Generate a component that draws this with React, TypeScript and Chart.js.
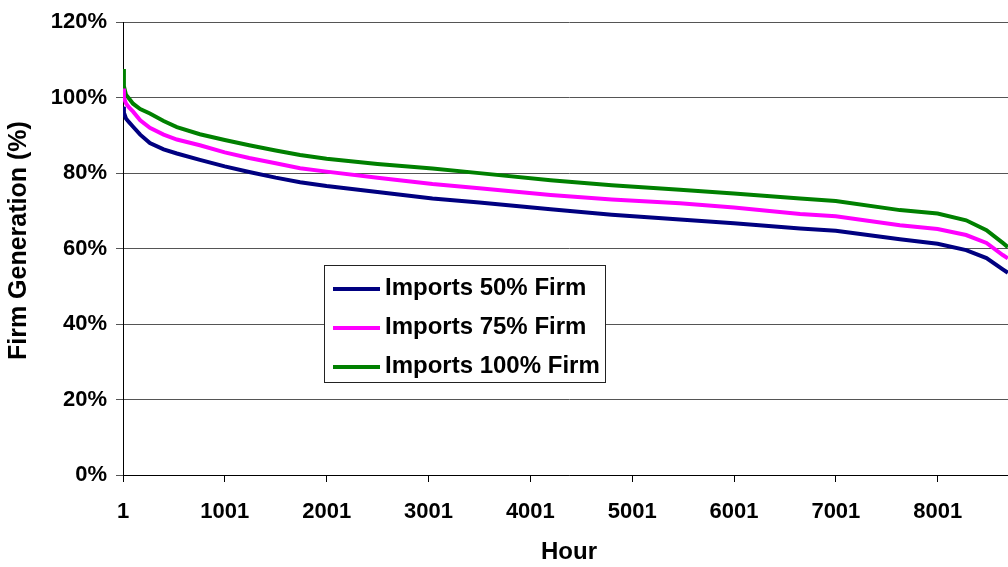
import React, { useEffect, useRef } from "react";
import { Chart, registerables } from "chart.js";

Chart.register(...registerables);

const hours = [1, 10, 30, 60, 100, 170, 265, 400, 530, 756, 1000, 1240, 1500, 1740, 2000, 2500, 3040, 3500, 4200, 4800, 5470, 6000, 6650, 7000, 7630, 8000, 8280, 8480, 8640, 8690];
const imports50 = [97.6, 96, 94.5, 93.5, 92.3, 90.2, 88, 86.3, 85.2, 83.5, 81.8, 80.3, 78.8, 77.6, 76.6, 75, 73.3, 72.2, 70.4, 69, 67.7, 66.7, 65.3, 64.7, 62.5, 61.3, 59.6, 57.5, 54.5, 53.6];
const imports75 = [102.4, 100, 98.5, 97.4, 96.3, 94, 92, 90.2, 88.9, 87.4, 85.5, 84, 82.6, 81.3, 80.4, 78.8, 77.1, 76, 74.2, 73, 72, 70.9, 69.2, 68.6, 66.2, 65.2, 63.6, 61.5, 58.3, 57.4];
const imports100 = [107.6, 103, 100.8, 99.8, 98.4, 97, 95.8, 93.8, 92.2, 90.3, 88.8, 87.4, 86, 84.8, 83.8, 82.4, 81.2, 80, 78.1, 76.8, 75.6, 74.6, 73.3, 72.6, 70.2, 69.3, 67.5, 64.9, 61.5, 60.4];
const xTickValues = [1, 1001, 2001, 3001, 4001, 5001, 6001, 7001, 8001];
const seriesNames = ["Imports 50% Firm", "Imports 75% Firm", "Imports 100% Firm"];
const seriesColors = ["#000080", "#FF00FF", "#008000"];
const yTitle = "Firm Generation (%)";
const xTitle = "Hour";

const FONT = "'Liberation Sans', Arial, sans-serif";

const yTitlePlugin = {
  id: "yTitleDraw",
  afterDraw(chart: any) {
    const ctx = chart.ctx;
    const area = chart.chartArea;
    ctx.save();
    ctx.translate(19, (area.top + area.bottom) / 2 - 8);
    ctx.rotate(-Math.PI / 2);
    ctx.font = `bold 25px ${FONT}`;
    ctx.fillStyle = "#000";
    ctx.textAlign = "center";
    ctx.textBaseline = "middle";
    ctx.fillText(yTitle, 0, 0);
    ctx.restore();
  },
};

export default function App() {
  const ref = useRef<HTMLCanvasElement | null>(null);

  useEffect(() => {
    const canvas = ref.current;
    if (!canvas) return;
    const seriesData = [imports50, imports75, imports100];
    const chart = new Chart(canvas, {
      type: "line",
      data: {
        datasets: seriesData.map((vals, i) => ({
          label: seriesNames[i],
          data: hours.map((h, j) => ({ x: h, y: vals[j] })),
          borderColor: seriesColors[i],
          backgroundColor: seriesColors[i],
          borderWidth: 4,
          pointRadius: 0,
          tension: 0,
          fill: false,
        })),
      },
      plugins: [yTitlePlugin],
      options: {
        animation: false,
        responsive: false,
        devicePixelRatio: 1,
        layout: { padding: { top: 18, left: 0, right: 0, bottom: 0 } },
        plugins: { legend: { display: false }, tooltip: { enabled: false } },
        scales: {
          x: {
            type: "linear",
            min: 1,
            max: 8760,
            afterBuildTicks: (scale: any) => {
              scale.ticks = xTickValues.map((v) => ({ value: v }));
            },
            afterFit: (scale: any) => {
              scale.height = 92;
            },
            ticks: {
              autoSkip: false,
              maxRotation: 0,
              padding: 17,
              color: "#000",
              font: { family: FONT, size: 22, weight: "bold" },
              callback: (v: any) => String(v),
            },
            grid: { drawOnChartArea: false, drawTicks: true, tickLength: 7, tickColor: "#000" },
            border: { display: true, color: "#000", width: 1 },
            title: {
              display: true,
              text: xTitle,
              color: "#000",
              font: { family: FONT, size: 24, weight: "bold" },
              padding: { top: 0, bottom: 0 },
            },
          },
          y: {
            min: 0,
            max: 120,
            afterFit: (scale: any) => {
              scale.width = 123;
            },
            ticks: {
              stepSize: 20,
              padding: 9,
              color: "#000",
              font: { family: FONT, size: 22, weight: "bold" },
              callback: (v: any) => v + "%",
            },
            grid: { color: "#555", tickColor: "#555", tickLength: 7, lineWidth: 1 },
            border: { display: true, color: "#000", width: 1 },
            title: { display: false },
          },
        },
      },
    });
    return () => chart.destroy();
  }, []);

  const rowCenters = [21, 60, 99];

  return (
    <div style={{ position: "absolute", left: 0, top: 0, width: 1008, height: 567, background: "#fff", overflow: "hidden" }}>
      <canvas ref={ref} width={1015} height={567} style={{ display: "block" }} />
      <div
        style={{
          position: "absolute",
          left: 324,
          top: 265,
          width: 282,
          height: 118,
          boxSizing: "border-box",
          border: "1px solid #222",
          background: "#fff",
          fontFamily: FONT,
          fontWeight: "bold",
          fontSize: 24,
          color: "#000",
        }}
      >
        {seriesNames.map((name, i) => (
          <div key={name}>
            <div
              style={{
                position: "absolute",
                left: 8,
                top: rowCenters[i],
                width: 47,
                height: 4,
                background: seriesColors[i],
              }}
            />
            <div
              style={{
                position: "absolute",
                left: 60,
                top: rowCenters[i] - 20,
                height: 40,
                display: "flex",
                alignItems: "center",
                whiteSpace: "nowrap",
              }}
            >
              {name}
            </div>
          </div>
        ))}
      </div>
    </div>
  );
}
